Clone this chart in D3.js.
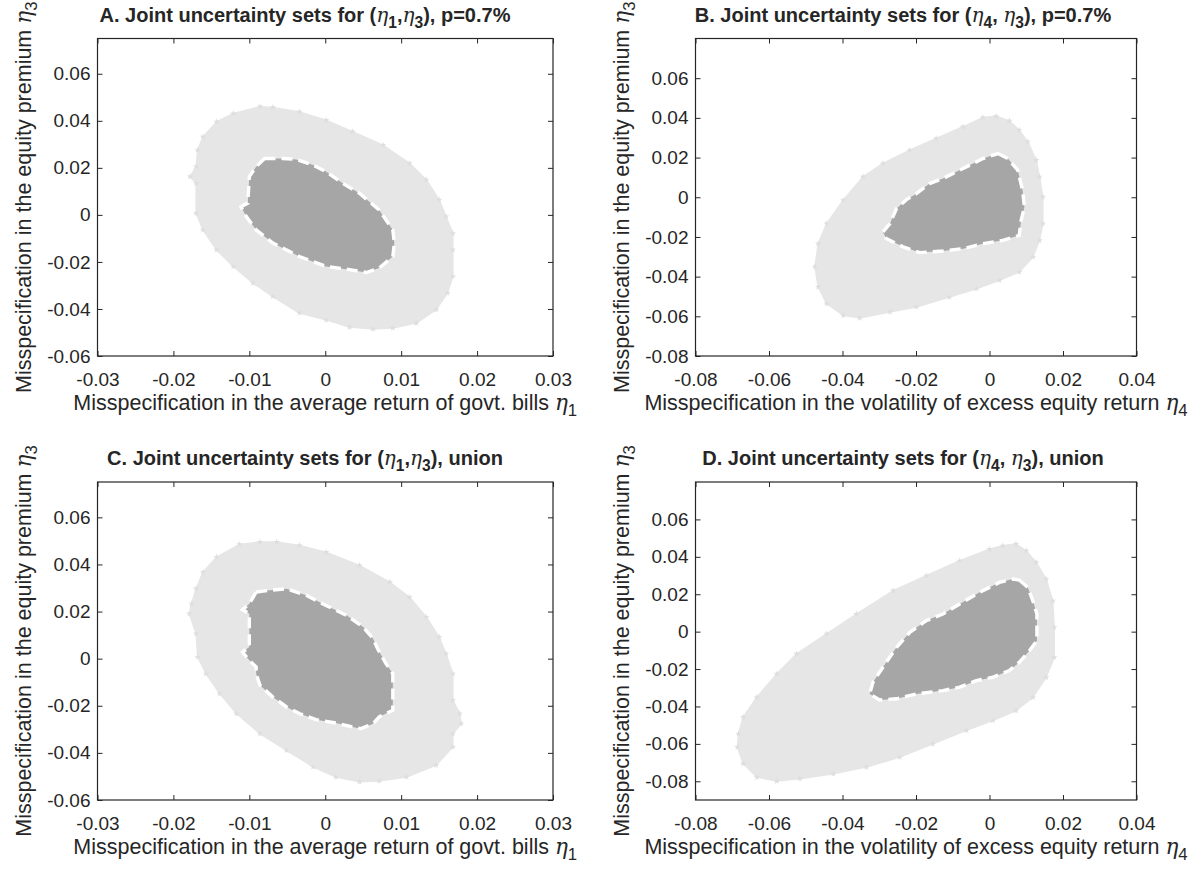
<!DOCTYPE html>
<html>
<head>
<meta charset="utf-8">
<script src="https://cdn.jsdelivr.net/npm/d3@7"></script>
<style>
  body { margin: 0; background: #fff; }
  text { font-family: "Liberation Sans", Arial, Helvetica, sans-serif; fill: #262626; }
</style>
</head>
<body>
<div id="chart"></div>
<script>
// Boundary points, as [eta_x, eta_3]

// Panel A: (eta1, eta3), p=0.7%
var outerA = [[-0.0069,0.0457],[-0.0086,0.0460],[-0.0121,0.0431],[-0.0143,0.0396],[-0.0161,0.0332],
  [-0.0168,0.0276],[-0.0170,0.0205],[-0.0178,0.0163],[-0.0170,0.0134],[-0.0170,0.0007],[-0.0161,-0.0064],
  [-0.0143,-0.0149],[-0.0121,-0.0219],[-0.0095,-0.0290],[-0.0069,-0.0347],[-0.0034,-0.0417],[0.0001,-0.0446],
  [0.0032,-0.0477],[0.0063,-0.0485],[0.0089,-0.0481],[0.0120,-0.0460],[0.0146,-0.0403],[0.0161,-0.0332],
  [0.0168,-0.0262],[0.0168,-0.0149],[0.0168,-0.0078],[0.0159,-0.0007],[0.0150,0.0064],[0.0133,0.0149],
  [0.0111,0.0219],[0.0076,0.0297],[0.0036,0.0354],[0.0001,0.0403],[-0.0034,0.0438]];
var innerA = [[-0.0080,0.0240],[-0.0056,0.0240],[-0.0038,0.0236],[-0.0016,0.0212],[0.0001,0.0184],
  [0.0023,0.0134],[0.0045,0.0092],[0.0071,0.0021],[0.0089,-0.0064],[0.0091,-0.0120],[0.0089,-0.0177],
  [0.0071,-0.0226],[0.0054,-0.0245],[0.0032,-0.0233],[0.0001,-0.0219],[-0.0034,-0.0177],[-0.0069,-0.0120],
  [-0.0091,-0.0064],[-0.0104,-0.0007],[-0.0111,0.0035],[-0.0102,0.0050],[-0.0100,0.0163],[-0.0091,0.0205]];

// Panel B: (eta4, eta3), p=0.7%
var outerB = [[0.0018,0.0408],[0.0054,0.0385],[0.0081,0.0338],[0.0104,0.0279],[0.0127,0.0187],
  [0.0136,0.0103],[0.0145,0.0002],[0.0145,-0.0133],[0.0136,-0.0217],[0.0118,-0.0301],[0.0081,-0.0376],
  [0.0027,-0.0418],[-0.0036,-0.0461],[-0.0109,-0.0503],[-0.0199,-0.0553],[-0.0271,-0.0578],[-0.0353,-0.0608],
  [-0.0398,-0.0595],[-0.0443,-0.0536],[-0.0466,-0.0452],[-0.0475,-0.0351],[-0.0466,-0.0234],[-0.0443,-0.0133],
  [-0.0398,-0.0015],[-0.0344,0.0103],[-0.0290,0.0170],[-0.0217,0.0237],[-0.0145,0.0296],[-0.0072,0.0355],
  [-0.0018,0.0402]];
var innerB = [[0.0023,0.0220],[0.0050,0.0195],[0.0077,0.0136],[0.0090,0.0035],[0.0095,-0.0049],
  [0.0086,-0.0116],[0.0081,-0.0192],[0.0036,-0.0217],[-0.0018,-0.0234],[-0.0072,-0.0259],[-0.0127,-0.0271],
  [-0.0190,-0.0279],[-0.0235,-0.0250],[-0.0281,-0.0208],[-0.0290,-0.0175],[-0.0271,-0.0133],[-0.0253,-0.0057],
  [-0.0226,-0.0012],[-0.0199,0.0018],[-0.0163,0.0069],[-0.0127,0.0094],[-0.0072,0.0145],[-0.0018,0.0195]];

// Panel C: (eta1, eta3), union
var outerC = [[-0.0086,0.0495],[-0.0113,0.0485],[-0.0143,0.0431],[-0.0161,0.0367],[-0.0170,0.0297],
  [-0.0176,0.0233],[-0.0179,0.0191],[-0.0170,0.0106],[-0.0168,0.0007],[-0.0157,-0.0064],[-0.0139,-0.0148],
  [-0.0117,-0.0233],[-0.0086,-0.0318],[-0.0051,-0.0389],[-0.0016,-0.0459],[0.0014,-0.0502],[0.0045,-0.0523],
  [0.0071,-0.0519],[0.0107,-0.0502],[0.0146,-0.0452],[0.0168,-0.0375],[0.0168,-0.0318],[0.0179,-0.0276],
  [0.0177,-0.0233],[0.0168,-0.0177],[0.0168,-0.0064],[0.0159,0.0021],[0.0150,0.0092],[0.0133,0.0177],
  [0.0111,0.0261],[0.0085,0.0325],[0.0045,0.0396],[0.0001,0.0452],[-0.0034,0.0481],[-0.0064,0.0495]];
var innerC = [[-0.0091,0.0283],[-0.0073,0.0290],[-0.0051,0.0297],[-0.0025,0.0269],[0.0001,0.0226],
  [0.0028,0.0184],[0.0050,0.0134],[0.0063,0.0085],[0.0069,0.0042],[0.0080,-0.0021],[0.0089,-0.0064],
  [0.0089,-0.0120],[0.0089,-0.0219],[0.0071,-0.0247],[0.0063,-0.0276],[0.0047,-0.0297],[0.0036,-0.0290],
  [0.0014,-0.0273],[-0.0012,-0.0259],[-0.0034,-0.0233],[-0.0051,-0.0205],[-0.0069,-0.0163],[-0.0086,-0.0113],
  [-0.0091,-0.0064],[-0.0091,-0.0035],[-0.0100,-0.0007],[-0.0109,0.0028],[-0.0100,0.0049],[-0.0100,0.0134],
  [-0.0100,0.0191],[-0.0109,0.0208],[-0.0100,0.0233]];

// Panel D: (eta4, eta3), union
var outerD = [[0.0072,0.0468],[0.0100,0.0432],[0.0127,0.0370],[0.0154,0.0281],[0.0172,0.0165],
  [0.0176,0.0023],[0.0176,-0.0137],[0.0154,-0.0244],[0.0118,-0.0351],[0.0072,-0.0422],[0.0009,-0.0475],
  [-0.0063,-0.0528],[-0.0154,-0.0600],[-0.0244,-0.0671],[-0.0335,-0.0724],[-0.0425,-0.0760],[-0.0516,-0.0786],
  [-0.0579,-0.0799],[-0.0633,-0.0778],[-0.0670,-0.0706],[-0.0686,-0.0617],[-0.0683,-0.0546],[-0.0670,-0.0457],
  [-0.0633,-0.0351],[-0.0579,-0.0226],[-0.0525,-0.0119],[-0.0443,-0.0012],[-0.0362,0.0094],[-0.0262,0.0219],
  [-0.0172,0.0299],[-0.0081,0.0379],[0.0000,0.0441],[0.0036,0.0459]];
var innerD = [[0.0081,0.0276],[0.0104,0.0237],[0.0118,0.0165],[0.0129,0.0094],[0.0129,-0.0048],
  [0.0109,-0.0101],[0.0081,-0.0164],[0.0054,-0.0208],[0.0009,-0.0244],[-0.0036,-0.0262],[-0.0081,-0.0297],
  [-0.0127,-0.0315],[-0.0199,-0.0333],[-0.0253,-0.0359],[-0.0299,-0.0365],[-0.0326,-0.0333],[-0.0317,-0.0270],
  [-0.0290,-0.0190],[-0.0253,-0.0084],[-0.0217,-0.0004],[-0.0172,0.0059],[-0.0127,0.0094],[-0.0081,0.0148],
  [-0.0027,0.0210],[0.0027,0.0263],[0.0063,0.0281]];

// Tick values
var ticksEta1 = [-0.03, -0.02, -0.01, 0, 0.01, 0.02, 0.03];
var ticksEta4 = [-0.08, -0.06, -0.04, -0.02, 0, 0.02, 0.04];
var ticksEta3AC = [-0.06, -0.04, -0.02, 0, 0.02, 0.04, 0.06];
var ticksEta3BD = [-0.08, -0.06, -0.04, -0.02, 0, 0.02, 0.04, 0.06];

var labelEta1 = "Misspecification in the average return of govt. bills ";
var labelEta4 = "Misspecification in the volatility of excess equity return ";
var labelEta3 = "Misspecification in the equity premium ";

var svg = d3.select("#chart").append("svg")
    .attr("width", 1204)
    .attr("height", 869);

var panels = [
  {letter: "A", sep: ",", tail: "p=0.7%", xs: "1", outer: outerA, inner: innerA,
   xDomain: [-0.03, 0.03], yDomain: [-0.06, 0.075], xTicks: ticksEta1, yTicks: ticksEta3AC,
   left: 97.5, right: 553, top: 38.5, bottom: 356, xlabel: labelEta1, titleX: 305},
  {letter: "B", sep: ", ", tail: "p=0.7%", xs: "4", outer: outerB, inner: innerB,
   xDomain: [-0.08, 0.04], yDomain: [-0.08, 0.08], xTicks: ticksEta4, yTicks: ticksEta3BD,
   left: 695.5, right: 1136.5, top: 38.5, bottom: 356, xlabel: labelEta4, titleX: 903},
  {letter: "C", sep: ",", tail: "union", xs: "1", outer: outerC, inner: innerC,
   xDomain: [-0.03, 0.03], yDomain: [-0.06, 0.075], xTicks: ticksEta1, yTicks: ticksEta3AC,
   left: 97.5, right: 553, top: 482, bottom: 800, xlabel: labelEta1, titleX: 305},
  {letter: "D", sep: ", ", tail: "union", xs: "4", outer: outerD, inner: innerD,
   xDomain: [-0.08, 0.04], yDomain: [-0.09, 0.08], xTicks: ticksEta4, yTicks: ticksEta3BD,
   left: 695.5, right: 1136.5, top: 482, bottom: 800, xlabel: labelEta4, titleX: 903}
];

// MATLAB style labels: plain hyphen, two decimals, bare zero
function fmt(d) { return d === 0 ? "0" : d.toFixed(2); }

// Eta with a subscript, TeX style
function eta(sel, sub, weight) {
  sel.append("tspan").attr("font-style", "italic").attr("font-weight", "normal")
     .attr("font-family", "DejaVu Serif, serif").text("\u03b7");
  sel.append("tspan").attr("baseline-shift", "-35%").attr("font-size", "78%")
     .attr("font-weight", weight).text(sub);
}

panels.forEach(function(p) {
  var g = svg.append("g");

  var x = d3.scaleLinear().domain(p.xDomain).range([p.left, p.right]);
  var y = d3.scaleLinear().domain(p.yDomain).range([p.bottom, p.top]);

  var line = d3.line()
      .x(function(d) { return x(d[0]); })
      .y(function(d) { return y(d[1]); })
      .curve(d3.curveLinearClosed);

  // Outer (light) set
  g.append("path")
      .attr("d", line(p.outer))
      .style("fill", "#e6e6e6")
      .style("stroke", "#e6e6e6")
      .style("stroke-width", 1.5);

  // Star markers along the outer boundary
  g.selectAll(".mk")
      .data(p.outer)
      .enter()
      .append("path")
      .attr("transform", function(d) { return "translate(" + x(d[0]) + "," + y(d[1]) + ")"; })
      .attr("d", d3.symbol(d3.symbolStar, 14))
      .style("fill", "#dedede");

  // Inner (dark) set with dashed white edge
  g.append("path")
      .attr("d", line(p.inner))
      .style("fill", "#a6a6a6")
      .style("stroke", "#ffffff")
      .style("stroke-width", 3.4)
      .style("stroke-dasharray", "11,6");

  // Axes, MATLAB style ticks inside
  g.append("g")
      .attr("transform", "translate(0," + p.bottom + ")")
      .call(d3.axisBottom(x).tickValues(p.xTicks).tickFormat(fmt).tickSizeInner(-5).tickSizeOuter(0).tickPadding(17))
      .call(function(a) { a.select(".domain").remove(); });
  g.append("g")
      .attr("transform", "translate(0," + p.top + ")")
      .call(d3.axisTop(x).tickValues(p.xTicks).tickFormat("").tickSizeInner(-5).tickSizeOuter(0))
      .call(function(a) { a.select(".domain").remove(); });
  g.append("g")
      .attr("transform", "translate(" + p.left + ",0)")
      .call(d3.axisLeft(y).tickValues(p.yTicks).tickFormat(fmt).tickSizeInner(-5).tickSizeOuter(0).tickPadding(7))
      .call(function(a) { a.select(".domain").remove(); });
  g.append("g")
      .attr("transform", "translate(" + p.right + ",0)")
      .call(d3.axisRight(y).tickValues(p.yTicks).tickFormat("").tickSizeInner(-5).tickSizeOuter(0))
      .call(function(a) { a.select(".domain").remove(); });

  g.selectAll(".tick line").style("stroke", "#262626").style("stroke-width", 1);
  g.selectAll(".tick text")
      .style("font-size", "19px")
      .style("font-family", "'Liberation Sans', Arial, sans-serif")
      .style("fill", "#262626");

  g.append("rect")
      .attr("x", p.left).attr("y", p.top)
      .attr("width", p.right - p.left).attr("height", p.bottom - p.top)
      .style("fill", "none").style("stroke", "#262626").style("stroke-width", 1.2);

  // Title
  var t = g.append("text")
      .attr("x", p.titleX).attr("y", p.top - 17)
      .attr("text-anchor", "middle")
      .style("font-size", "20px").style("font-weight", "bold");
  t.append("tspan").text(p.letter + ". Joint uncertainty sets for (");
  eta(t, p.xs, "bold");
  t.append("tspan").text(p.sep);
  eta(t, "3", "bold");
  t.append("tspan").text("), " + p.tail);

  // X label
  var xl = g.append("text")
      .attr("x", (p.left + p.right) / 2).attr("y", p.bottom + 54)
      .attr("text-anchor", "middle")
      .style("font-size", "21.5px");
  xl.append("tspan").text(p.xlabel);
  eta(xl, p.xs, "normal");

  // Y label
  var yl = g.append("text")
      .attr("transform", "translate(" + (p.left - 67) + "," + ((p.top + p.bottom) / 2) + ") rotate(-90)")
      .attr("text-anchor", "middle")
      .style("font-size", "21.5px");
  yl.append("tspan").text(labelEta3);
  eta(yl, "3", "normal");
});
</script>
</body>
</html>
